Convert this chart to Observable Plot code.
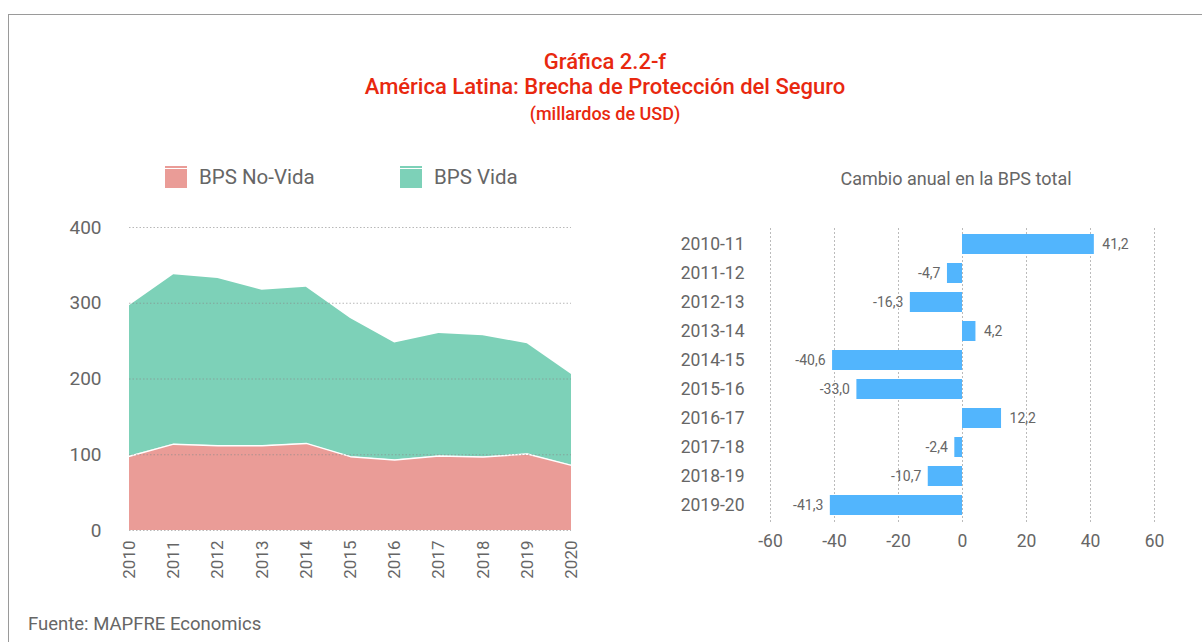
<!DOCTYPE html>
<html><head><meta charset="utf-8">
<script src="https://cdn.jsdelivr.net/npm/d3@7"></script>
<script src="https://cdn.jsdelivr.net/npm/@observablehq/plot@0.6"></script>
<style>
body{margin:0;background:#fff;font-family:Roboto, "DejaVu Sans", sans-serif;}
#wrap{position:relative;width:1202px;height:642px;overflow:hidden;background:#fff;}
.frame{position:absolute;left:8px;top:14px;width:1300px;height:700px;border-top:1.5px solid #9a9a9a;border-left:1.5px solid #9a9a9a;}
.title{position:absolute;left:0;width:1210px;text-align:center;color:#E8280F;font-weight:500;white-space:nowrap;}
.leg{position:absolute;top:166px;height:22px;display:flex;align-items:center;font-size:20.5px;color:#666;}
.sw{width:22px;height:22px;margin-right:12px;position:relative;}
.sw i{position:absolute;left:0;top:0;width:22px;height:1.5px;}
.sw b{position:absolute;left:0;top:3px;width:22px;height:19px;}
.sub{position:absolute;left:756px;width:400px;text-align:center;top:168px;font-size:18px;color:#666;}
.foot{position:absolute;left:28px;top:613px;font-size:18.5px;color:#666;}
#left{position:absolute;left:0;top:200px;}
#right{position:absolute;left:640px;top:200px;}
</style></head>
<body><div id="wrap">
<div class="frame"></div>
<div class="title" style="top:51px;font-size:22px;line-height:22px;">Gráfica 2.2-f</div>
<div class="title" style="top:76px;font-size:22px;line-height:22px;">América Latina: Brecha de Protección del Seguro</div>
<div class="title" style="top:105px;font-size:18px;line-height:18px;">(millardos de USD)</div>
<div class="leg" style="left:165px;"><div class="sw"><i style="background:#EA9C97"></i><b style="background:#EA9C97"></b></div>BPS No-Vida</div>
<div class="leg" style="left:400px;"><div class="sw"><i style="background:#7DD1B8"></i><b style="background:#7DD1B8"></b></div>BPS Vida</div>
<div class="sub">Cambio anual en la BPS total</div>
<div id="left"></div>
<div id="right"></div>
<div class="foot">Fuente: MAPFRE Economics</div>
</div>
<script>
const years = [2010, 2011, 2012, 2013, 2014, 2015, 2016, 2017, 2018, 2019, 2020];
const noVida = [98, 114, 112, 112, 115, 97.5, 93, 98.5, 97, 101, 86];
const vida = [198.8, 223.7, 220.8, 205, 206, 182.5, 154.6, 161.5, 160, 145.7, 119.8];
const seriesNames = ["BPS No-Vida", "BPS Vida"];
const seriesColors = ["#EA9C97", "#7DD1B8"];
const yTicks = [0, 100, 200, 300, 400];

const periods = ["2010-11", "2011-12", "2012-13", "2013-14", "2014-15", "2015-16", "2016-17", "2017-18", "2018-19", "2019-20"];
const changes = [41.2, -4.7, -16.3, 4.2, -40.6, -33.0, 12.2, -2.4, -10.7, -41.3];
const xTicks = [-60, -40, -20, 0, 20, 40, 60];

const areaData = [];
years.forEach((y, i) => areaData.push({year: y, type: seriesNames[0], value: noVida[i]}));
years.forEach((y, i) => areaData.push({year: y, type: seriesNames[1], value: vida[i]}));
const lineData = years.map((y, i) => ({year: y, value: noVida[i]}));

const left = Plot.plot({
  width: 600, height: 390,
  marginLeft: 129, marginRight: 29, marginTop: 27, marginBottom: 60,
  style: {fontFamily: "Roboto, sans-serif", fontSize: "17px", color: "#666", background: "transparent", overflow: "visible"},
  x: {domain: [2010, 2020], ticks: years, tickFormat: d => String(d), tickRotate: -90, tickSize: 0, tickPadding: 10, label: null},
  y: {domain: [0, 400], ticks: yTicks, tickSize: 0, tickPadding: 28, label: null},
  color: {domain: seriesNames, range: seriesColors},
  marks: [
    Plot.areaY(areaData, Plot.stackY({x: "year", y: "value", fill: "type", order: seriesNames})),
    Plot.line(lineData, {x: "year", y: "value", stroke: "white", strokeWidth: 1.5}),
    Plot.ruleY(yTicks, {stroke: "#888", strokeOpacity: 0.6, strokeDasharray: "1.5,2"})
  ]
});
left.querySelectorAll("g[aria-label='y-axis tick label'] text, g[aria-label='y-axis'] text").forEach(t => t.style.fontSize = "19px");
document.getElementById("left").appendChild(left);

const barData = periods.map((p, i) => ({p, v: changes[i]}));
const fmt = v => d3.format(".1f")(v).replace(".", ",").replace("−", "-");

const right = Plot.plot({
  width: 560, height: 360,
  marginLeft: 130, marginRight: 46, marginTop: 28, marginBottom: 38,
  style: {fontFamily: "Roboto, sans-serif", fontSize: "17.5px", color: "#666", background: "transparent", overflow: "visible"},
  x: {domain: [-60, 60], ticks: xTicks, tickFormat: d => String(d).replace("−", "-"), tickSize: 0, tickPadding: 12, label: null},
  y: {domain: periods, tickSize: 0, tickPadding: 26, paddingInner: 0.3, paddingOuter: 0.15, label: null},
  marks: [
    Plot.ruleX(xTicks, {stroke: "#bbb", strokeDasharray: "2,2"}),
    Plot.barX(barData, {x: "v", y: "p", fill: "#52B5FD"}),
    Plot.text(barData.filter(d => d.v >= 0), {x: "v", y: "p", text: d => fmt(d.v), dx: 8, textAnchor: "start", fill: "#666", fontSize: 14}),
    Plot.text(barData.filter(d => d.v < 0), {x: "v", y: "p", text: d => fmt(d.v), dx: -7, textAnchor: "end", fill: "#666", fontSize: 14})
  ]
});
document.getElementById("right").appendChild(right);
</script>
</body></html>
